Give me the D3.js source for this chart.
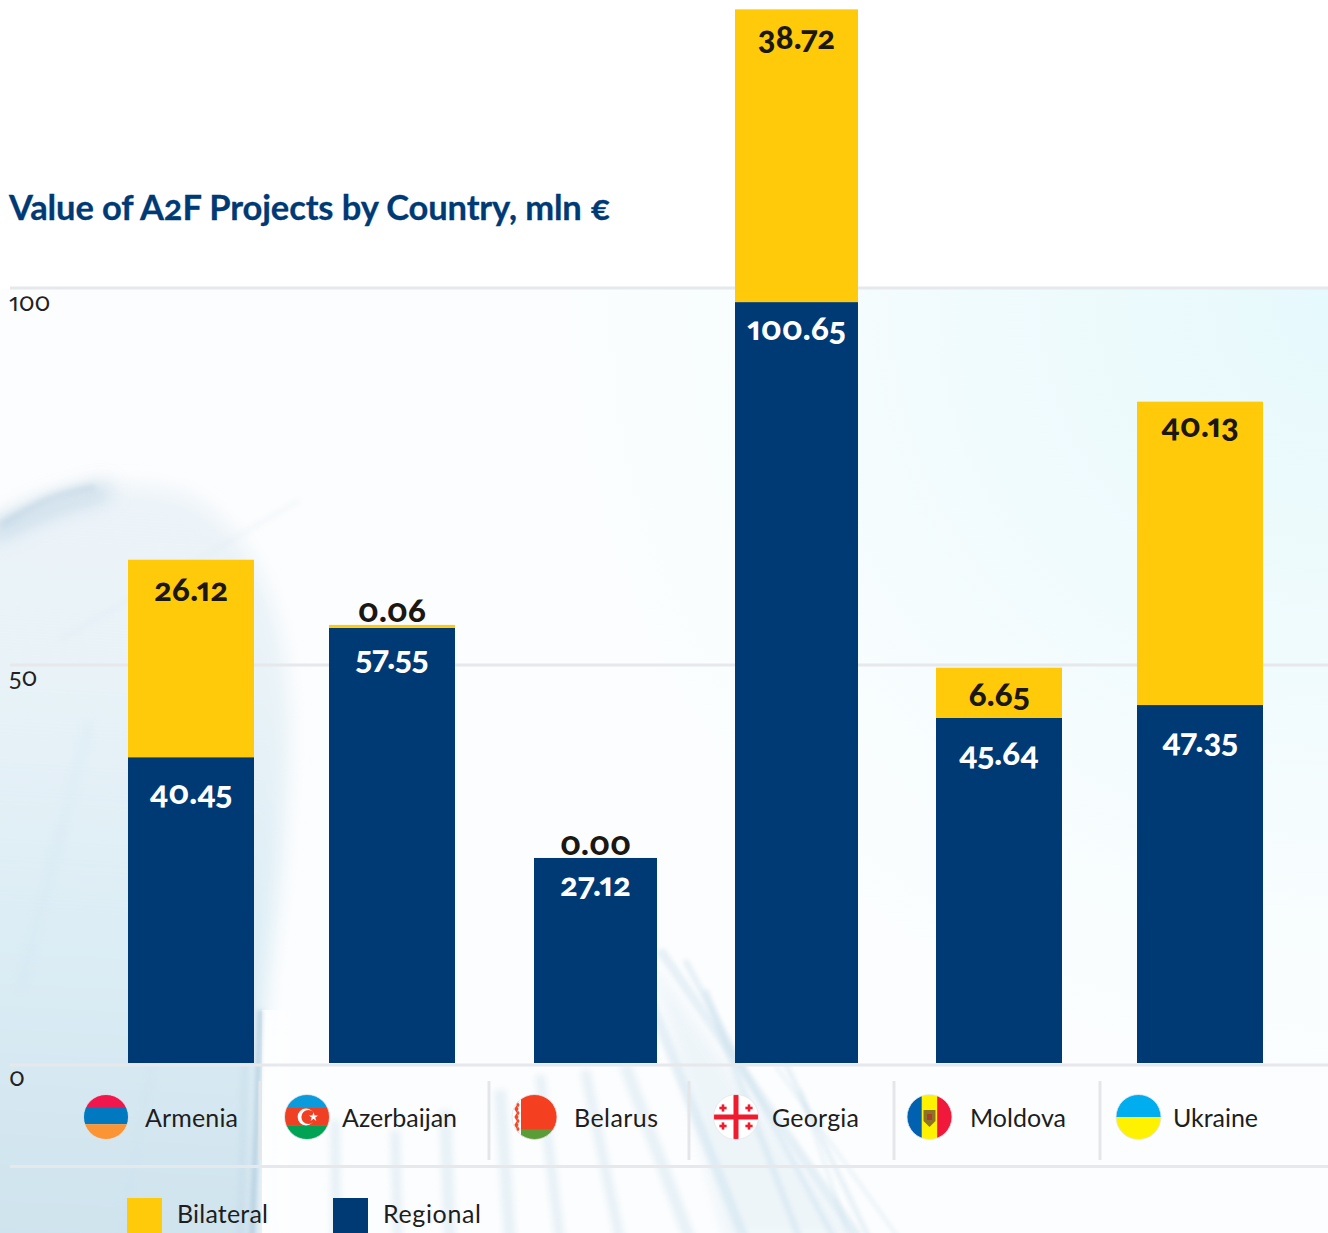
<!DOCTYPE html>
<html><head><meta charset="utf-8">
<script src="https://cdn.jsdelivr.net/npm/d3@7/dist/d3.min.js"></script>
<style>
html,body{margin:0;padding:0;background:#fff}
svg{display:block}
text{font-family:Lato,"Open Sans",sans-serif;font-variant-numeric:oldstyle-nums;font-feature-settings:"onum" 1,"pnum" 1}
</style></head><body><div id="c"></div>
<script>
const countries=["Armenia","Azerbaijan","Belarus","Georgia","Moldova","Ukraine"];
const regional=[40.45,57.55,27.12,100.65,45.64,47.35];
const bilateral=[26.12,0.06,0.00,38.72,6.65,40.13];
const axisTicks=[0,50,100];
const seriesNames=["Bilateral","Regional"];
const titleText="Value of A2F Projects by Country, mln €";

// layout (not data)
const W=1328,H=1233,baseY=1063,pxPerUnit=7.56,minSliver=3;
const barCenters=[191,392,595.5,796.5,999,1200];
const barWidths=[126,126,123,123,126,126];
const bilateralLabelY=[590,611,844,38,695,426];
const regionalLabelY=[793,658,885,329,754,741];
const flagCenters=[106,307,534.5,736,929.5,1138.5];
const nameX=[145,342,574,772,970,1173];
const nameW=[93,115,84,87,96,85];
const dividers=[260,489,689,894,1100];
const colors={Bilateral:"#ffca0a",Regional:"#003a75"};

const svg=d3.select("#c").append("svg").attr("width",W).attr("height",H).attr("viewBox",[0,0,W,H]);
const defs=svg.append("defs");
[2,3,6,10,14,30].forEach(b=>defs.append("filter").attr("id","b"+b).attr("filterUnits","userSpaceOnUse").attr("x",-100).attr("y",-100).attr("width",W+200).attr("height",H+200).append("feGaussianBlur").attr("stdDeviation",b));
const lg=(id,x1,y1,x2,y2,st)=>{const g=defs.append("linearGradient").attr("id",id).attr("gradientUnits","userSpaceOnUse").attr("x1",x1).attr("y1",y1).attr("x2",x2).attr("y2",y2);st.forEach(s=>g.append("stop").attr("offset",s[0]).attr("stop-color",s[1]).attr("stop-opacity",s[2]));};
lg("gLeft",60,480,20,1233,[[0,"#dbe9f2",.45],[.25,"#e0eef5",.7],[.6,"#dcedf5",1],[1,"#cfe3ee",1]]);
lg("gFade",262,0,300,0,[[0,"#fff",1],[1,"#fff",0]]);
const rg=defs.append("radialGradient").attr("id","gCy").attr("gradientUnits","userSpaceOnUse").attr("cx",1340).attr("cy",300).attr("r",900);
[[0,"#e6f9fc",1],[.4,"#f0fbfd",1],[.7,"#f8fdfe",.9],[1,"#fbfdfe",0]].forEach(s=>rg.append("stop").attr("offset",s[0]).attr("stop-color",s[1]).attr("stop-opacity",s[2]));

// background picture
const bg=svg.append("g");
bg.append("rect").attr("width",W).attr("height",H).attr("fill","#fff");
bg.append("rect").attr("x",0).attr("y",289).attr("width",W).attr("height",H-289).attr("fill","#fcfdfe");
bg.append("rect").attr("x",400).attr("y",289).attr("width",W-400).attr("height",944).attr("fill","url(#gCy)");
bg.append("path").attr("d","M-40,545 C30,490 120,470 190,495 C270,540 300,650 285,800 C280,900 266,960 262,1040 L262,1300 L-40,1300Z").attr("fill","url(#gLeft)").attr("filter","url(#b10)");
bg.append("rect").attr("x",262).attr("y",1010).attr("width",70).attr("height",230).attr("fill","url(#gFade)");
const streak=(pts,w,c,o,f)=>bg.append("path").attr("d",d3.line().curve(d3.curveBasis)(pts)).attr("fill","none").attr("stroke",c).attr("stroke-width",w).attr("opacity",o).attr("filter",`url(#${f})`);
streak([[-10,535],[50,505],[110,490]],16,"#a9c6da",.6,"b10");
streak([[0,525],[50,495],[95,487]],5,"#9fbdd3",.35,"b3");
streak([[260,1010],[257,1110],[252,1240]],5,"#9fc0d6",.6,"b2");
streak([[246,1040],[240,1240]],5,"#b6d0e0",.4,"b3");
streak([[20,990],[90,720]],5,"#c4dfee",.3,"b6");
streak([[120,1240],[190,860]],5,"#c4dfee",.3,"b6");
streak([[60,640],[300,500]],3,"#d5e4ee",.35,"b3");
// pleated fan, lower centre
const fan=[[660,950,860,1240,9],[685,960,835,1240,6],[705,990,800,1240,7],[760,1010,870,1240,5],[775,1065,900,1240,3],[650,1000,745,1240,10],[800,1090,850,1240,3]];
bg.append("path").attr("d","M725,1240 L650,960 L860,1240Z").attr("fill","#dfedf5").attr("opacity",.45).attr("filter","url(#b6)");
fan.forEach(f=>streak([[f[0],f[1]],[f[2],f[3]]],f[4],"#c3dcea",.38,"b2"));
const pale=[[625,1065,690,1240,12],[585,1070,620,1240,10],[540,1075,560,1240,10],[500,1090,510,1240,12],[445,1110,450,1240,12],[395,1130,398,1240,10],[335,1120,336,1240,10]];
pale.forEach(f=>streak([[f[0],f[1]],[f[2],f[3]]],f[4],"#cfe3ee",.45,"b3"));

// scales
const xC=d3.scaleOrdinal(countries,barCenters);
const xW=d3.scaleOrdinal(countries,barWidths);
const y=d3.scaleLinear().domain([0,1]).range([baseY,baseY-pxPerUnit]);
const yAxis=d3.scaleLinear().domain(axisTicks).range([1064.5,664.5,287.5]);

// grid + ticks
const ax=svg.append("g").attr("transform","translate(10,0)").call(d3.axisRight(yAxis).tickValues(axisTicks).tickSize(W-10).tickFormat(d3.format("d")));
ax.select(".domain").remove();
ax.selectAll("line").attr("stroke","#e6e8eb").attr("stroke-width",3);
ax.selectAll("text").attr("x",-1).attr("y",0).attr("dy",d=>d==100?"22.5":d==50?"20.5":"21").attr("text-anchor","start").attr("font-family","Lato").attr("font-weight",400).style("font-size","25px").attr("fill","#222");
svg.append("line").attr("x1",10).attr("x2",W).attr("y1",1166.5).attr("y2",1166.5).attr("stroke","#e6e8eb").attr("stroke-width",3);
svg.selectAll(".div").data(dividers).join("line").attr("x1",d=>d).attr("x2",d=>d).attr("y1",1081).attr("y2",1160).attr("stroke","#e4e6e9").attr("stroke-width",3);

// bars
const rows=countries.map((c,i)=>({c,i,r:regional[i],b:bilateral[i]}));
const bars=svg.append("g");
bars.selectAll(".r").data(rows).join("rect").attr("x",d=>xC(d.c)-xW(d.c)/2).attr("width",d=>xW(d.c)).attr("y",d=>y(d.r)).attr("height",d=>y(0)-y(d.r)).attr("fill",colors.Regional);
const bh=d=>d.b>0?Math.max(minSliver,y(d.r)-y(d.r+d.b)):0;
bars.selectAll(".b").data(rows).join("rect").attr("x",d=>xC(d.c)-xW(d.c)/2).attr("width",d=>xW(d.c)).attr("y",d=>y(d.r)-bh(d)).attr("height",bh).attr("fill",colors.Bilateral);

const lab=(cls,acc,ys,fill)=>svg.selectAll("."+cls).data(rows).join("text").attr("class",cls).attr("x",d=>xC(d.c)).attr("y",d=>ys[d.i]+11).attr("text-anchor","middle").attr("font-weight",900).attr("font-size",33).attr("fill",fill).text(d=>d3.format(".2f")(acc(d)));
lab("lb",d=>d.b,bilateralLabelY,"#1b1712");
lab("lr",d=>d.r,regionalLabelY,"#fff");

// title
svg.append("text").attr("x",9).attr("y",220).attr("font-size",34.5).attr("font-weight",700).attr("fill","#003a75").attr("stroke","#003a75").attr("stroke-width",.3).attr("textLength",602).text(titleText);

// country row
const R=22.5,cy=1117;
const flags=svg.append("g");
const stripesH=(g,cs,ws)=>{let t=-R;cs.forEach((c,i)=>{const h=ws[i]*2*R;g.append("rect").attr("x",-R).attr("y",t).attr("width",2*R).attr("height",h).attr("fill",c);t+=h;});};
const stripesV=(g,cs,ws)=>{let t=-R;cs.forEach((c,i)=>{const h=ws[i]*2*R;g.append("rect").attr("y",-R).attr("x",t).attr("height",2*R).attr("width",h).attr("fill",c);t+=h;});};
const cross=(g,x,yy,s,w)=>{g.append("rect").attr("x",x-s).attr("y",yy-w/2).attr("width",2*s).attr("height",w).attr("fill","#ee1c2e");g.append("rect").attr("x",x-w/2).attr("y",yy-s).attr("width",w).attr("height",2*s).attr("fill","#ee1c2e");};
const draw={
 Armenia:g=>stripesH(g,["#f0174f","#0079c1","#fb9434"],[.3,.36,.34]),
 Azerbaijan:g=>{stripesH(g,["#0a9bdc","#f04023","#00a253"],[.3,.38,.32]);
   g.append("circle").attr("cx",-1).attr("r",8.4).attr("fill","#fff");g.append("circle").attr("cx",1.4).attr("r",7).attr("fill","#f04023");
   g.append("path").attr("d",d3.symbol(d3.symbolStar,26)).attr("transform","translate(6.5,0)").attr("fill","#fff");},
 Belarus:g=>{stripesV(g,["#fff","#f44020"],[.2,.8]);
   g.append("rect").attr("x",-13.5).attr("y",R/2+1).attr("width",40).attr("height",20).attr("fill","#5a9c35");
   d3.range(-20,22,4).forEach((v,i)=>{g.append("path").attr("d",d3.symbol(d3.symbolDiamond,i%2?16:9)).attr("transform",`translate(${i%2?-18:-16.5},${v})`).attr("fill","#ef4a2c");});},
 Georgia:g=>{g.append("rect").attr("x",-R).attr("y",-R).attr("width",2*R).attr("height",2*R).attr("fill","#fff");cross(g,0,0,R,5);
   [[-13,-9],[13,-9],[-13,9],[13,9]].forEach(p=>cross(g,p[0],p[1],3.6,2.6));},
 Moldova:g=>{stripesV(g,["#0061b1","#fff200","#f0193b"],[.33,.34,.33]);
   g.append("path").attr("d","M-6,-7 L6,-7 L6,4 L0,10 L-6,4Z").attr("fill","#8c7326");g.append("rect").attr("x",-2.5).attr("y",-3).attr("width",5).attr("height",6).attr("fill","#a8402c");},
 Ukraine:g=>stripesH(g,["#00aeef","#fff200"],[.5,.5])
};
countries.forEach((c,i)=>{
 const id="clip"+i;
 defs.append("clipPath").attr("id",id).append("circle").attr("r",R);
 const g=flags.append("g").attr("transform",`translate(${flagCenters[i]},${cy})`);
 const inner=g.append("g").attr("clip-path",`url(#${id})`);
 draw[c](inner);
 g.append("circle").attr("r",R).attr("fill","none").attr("stroke","#e3e5e7").attr("stroke-width",.8);
});
svg.selectAll(".cn").data(countries).join("text").attr("x",(d,i)=>nameX[i]).attr("y",1127).attr("font-size",25).attr("fill","#1e1e1e").attr("textLength",(d,i)=>nameW[i]).text(d=>d);

// legend
const legX=[127,333],legW=[91,98];
svg.selectAll(".lgs").data(seriesNames).join("rect").attr("x",(d,i)=>legX[i]).attr("y",1198).attr("width",35).attr("height",35).attr("fill",d=>colors[d]);
svg.selectAll(".lgt").data(seriesNames).join("text").attr("x",(d,i)=>legX[i]+50).attr("y",1223).attr("font-size",25).attr("fill","#1e1e1e").attr("textLength",(d,i)=>legW[i]).text(d=>d);
</script></body></html>
